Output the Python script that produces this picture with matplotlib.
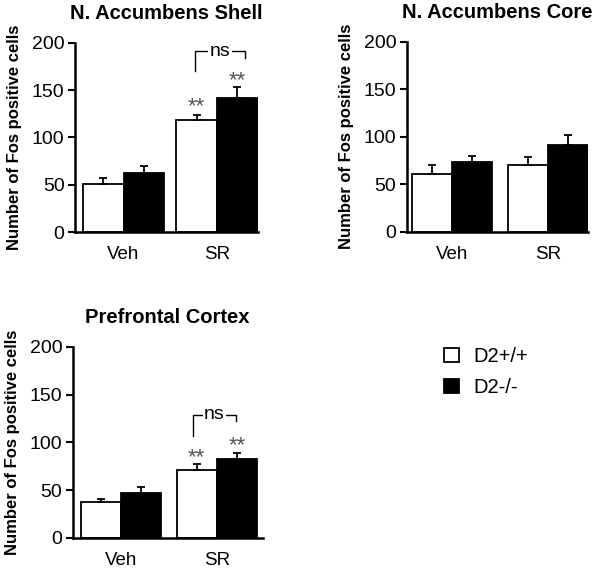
import matplotlib
matplotlib.use("Agg")
import matplotlib.pyplot as plt
from matplotlib.patches import Patch
import numpy as np

plt.rcParams["font.family"] = ["Liberation Sans", "DejaVu Sans"]

groups = ["Veh", "SR"]
genotypes = ["D2+/+", "D2-/-"]

titles = ["N. Accumbens Shell", "N. Accumbens Core", "Prefrontal Cortex"]

# mean values per group (Veh, SR)
shell_wt = [51, 118]
shell_ko = [62, 142]
shell_wt_err = [6, 6]
shell_ko_err = [8, 11]

core_wt = [61, 70]
core_ko = [73, 91]
core_wt_err = [9, 9]
core_ko_err = [7, 11]

pfc_wt = [37, 71]
pfc_ko = [47, 83]
pfc_wt_err = [3.5, 6]
pfc_ko_err = [6, 5.5]

# significance marks: (star y wt, star y ko, bracket top, left foot, right foot)
shell_sig = (133, 160, 191, 170, 184)
pfc_sig = (84, 96, 129, 107, 122)

fig = plt.figure(figsize=(6, 5.68), dpi=100)

# axes rectangles, bar widths, x limits, bracket feet x
axes_pos = [
    [0.125, 0.5915, 0.305, 0.333],
    [0.678, 0.592, 0.302, 0.3345],
    [0.121, 0.0533, 0.317, 0.336],
]
widths = [0.436, 0.417, 0.417]
xlims = [(-0.52, 1.44), (-0.472, 1.417), (-0.503, 1.479)]
feet_x = [(0.766, 1.30), None, (0.75, 1.20)]

panels = [
    (shell_wt, shell_ko, shell_wt_err, shell_ko_err, shell_sig),
    (core_wt, core_ko, core_wt_err, core_ko_err, None),
    (pfc_wt, pfc_ko, pfc_wt_err, pfc_ko_err, pfc_sig),
]

x = np.arange(len(groups))

for pos, title, w, xl, fx, (wt, ko, wt_e, ko_e, sig) in zip(
        axes_pos, titles, widths, xlims, feet_x, panels):
    ax = fig.add_axes(pos)
    ekw = dict(elinewidth=1.3, capthick=1.3)
    ax.bar(x - w / 2, wt, w, color="white", edgecolor="black", linewidth=1.3,
           yerr=[np.zeros(2), wt_e], capsize=3, error_kw=ekw)
    ax.bar(x + w / 2, ko, w, color="black", edgecolor="black", linewidth=1.3,
           yerr=[np.zeros(2), ko_e], capsize=3, error_kw=ekw)
    ax.set_ylim(0, 200)
    ax.set_xlim(*xl)
    ax.set_yticks([0, 50, 100, 150, 200])
    ax.set_xticks(x)
    ax.set_xticklabels(groups, fontsize=13.5)
    ax.tick_params(axis="x", length=0, pad=10)
    ax.tick_params(axis="y", labelsize=14, width=1.5, length=5, pad=2.5)
    for s in ["top", "right"]:
        ax.spines[s].set_visible(False)
    for s in ["left", "bottom"]:
        ax.spines[s].set_linewidth(1.8)
    ax.set_ylabel("Number of Fos positive cells", fontsize=12, fontweight="bold", labelpad=7)
    ax.set_title(title, fontsize=14.5, fontweight="bold", pad=17)

    if sig is not None:
        sw, sk, top, lf, rf = sig
        ax.text(1 - w / 2, sw, "**", ha="center", va="center", fontsize=16, color="#555555")
        ax.text(1 + w / 2, sk, "**", ha="center", va="center", fontsize=16, color="#555555")
        ax.plot([fx[0], fx[0], fx[1], fx[1]], [lf, top, top, rf],
                color="black", linewidth=1)
        ax.text((fx[0] + fx[1]) / 2, top, "ns", ha="center", va="center", fontsize=14,
                bbox=dict(facecolor="white", edgecolor="none", pad=1))

handles = [Patch(facecolor="white", edgecolor="black", linewidth=1.3),
           Patch(facecolor="black", edgecolor="black", linewidth=1.3)]
fig.legend(handles, genotypes, loc="center left", bbox_to_anchor=(0.74, 0.345),
           frameon=False, fontsize=14.5, handlelength=0.75, handleheight=0.75,
           handletextpad=0.7, labelspacing=0.6, borderpad=0, borderaxespad=0)

fig.savefig("out.png", dpi=100)
